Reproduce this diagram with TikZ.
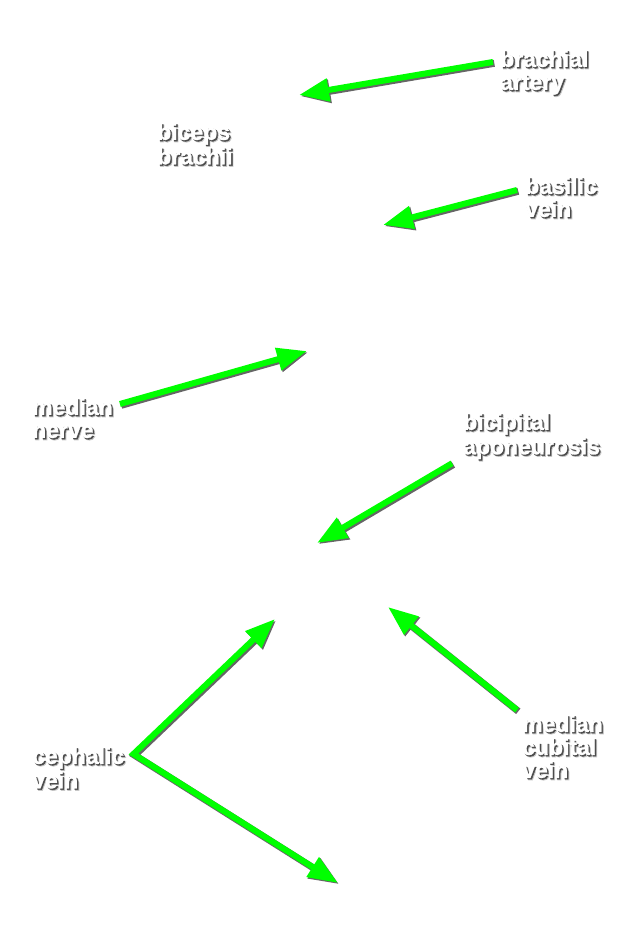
\documentclass[tikz,border=0pt]{standalone}
\usepackage{fontspec}
\setmainfont{Liberation Sans}
\newfontfamily\tagfont{Liberation Sans Bold}[FakeBold=1.2]
\newfontfamily\haloshade{Liberation Sans Bold}[FakeBold=4]
\newfontfamily\coreshade{Liberation Sans Bold}[FakeBold=2]
\usepackage{xcolor}
\usepackage{tikz}
\usetikzlibrary{arrows.meta, positioning}

\definecolor{pointergreen}{RGB}{0,255,0}
\newcommand{\shd}[1]{%
  \makebox[0pt][l]{\hspace{2pt}\raisebox{-2pt}{\haloshade\textcolor{black!22}{#1}}}%
  \makebox[0pt][l]{\hspace{1.3pt}\raisebox{-1.3pt}{\coreshade\textcolor{black!70}{#1}}}%
  {\tagfont\textcolor{white}{#1}}}

\begin{document}
\begin{tikzpicture}[x=1pt, y=1pt,
    tag/.style={anchor=north west, inner sep=0pt, align=left,
      font=\fontsize{23}{23}\selectfont},
    pointer/.style={line width=6pt, draw=pointergreen, line join=miter,
      -{Triangle[length=30pt, width=22pt]},
      preaction={draw=black!60, line width=7pt,
        transform canvas={shift={(1.3pt,-1.3pt)}}}}]
  \useasboundingbox (0,0) rectangle (631,950);
  % Labels
  \node[tag] (brachial) at (500,900) {\shd{brachial}\\\shd{artery}};
  \node[tag] (biceps) at (157,827) {\shd{biceps}\\\shd{brachii}};
  \node[tag] (basilic) at (525,773) {\shd{basilic}\\\shd{vein}};
  \node[tag] (mednerve) at (32,552) {\shd{median}\\\shd{nerve}};
  \node[tag] (bicipital) at (463,537) {\shd{bicipital}\\\shd{aponeurosis}};
  \node[tag] (cubital) at (522,235) {\shd{median}\\\shd{cubital}\\\shd{vein}};
  \node[tag] (cephalic) at (32,203) {\shd{cephalic}\\\shd{vein}};
  % Arrow tips
  \coordinate (brachialtip) at (299,855);
  \coordinate (basilictip) at (383,725);
  \coordinate (nervetip) at (307,599);
  \coordinate (aponeurtip) at (317,407);
  \coordinate (cubitaltip) at (388,343);
  \coordinate (cephupper) at (275,331);
  \coordinate (cephlower) at (338,67);
  % Arrows
  \draw[pointer] ([shift={(-7,-12)}]brachial.north west) -- (brachialtip);
  \draw[pointer] ([shift={(-8,-13)}]basilic.north west) -- (basilictip);
  \draw[pointer] ([shift={(7,-6)}]mednerve.north east) -- (nervetip);
  \draw[pointer] ([shift={(-11,-2)}]bicipital.south west) -- (aponeurtip);
  \draw[pointer] ([shift={(-5,5)}]cubital.north west) -- (cubitaltip);
  \draw[pointer, {Triangle[length=30pt, width=22pt]}-{Triangle[length=30pt, width=22pt]}]
    (cephupper) -- ([shift={(9,-7)}]cephalic.north east) -- (cephlower);
\end{tikzpicture}
\end{document}
